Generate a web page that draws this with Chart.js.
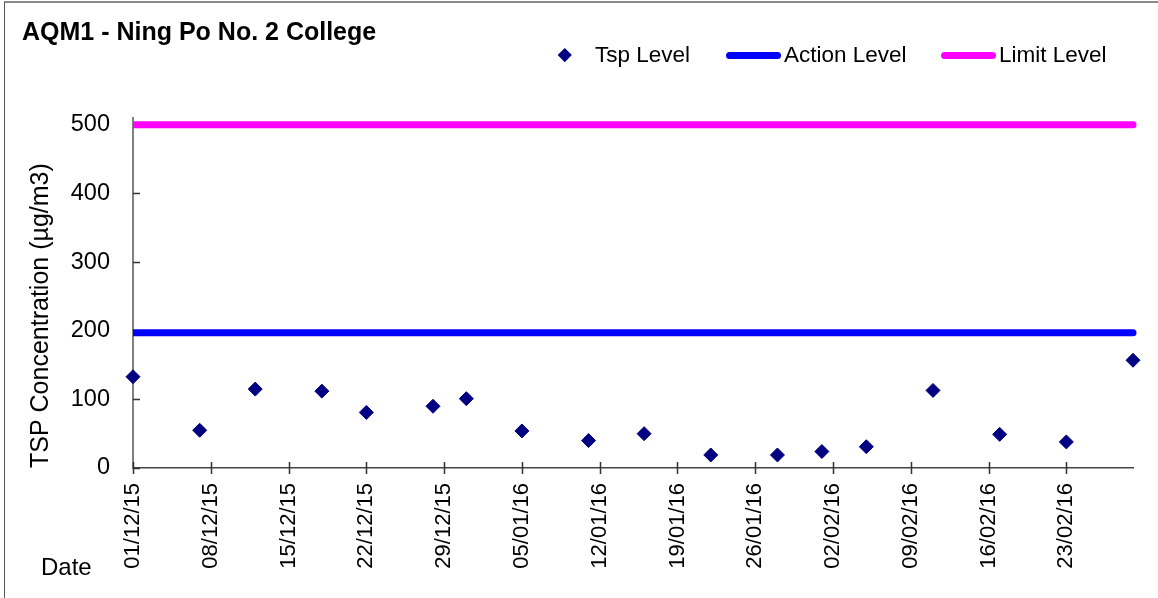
<!DOCTYPE html>
<html>
<head>
<meta charset="utf-8">
<title>AQM1 - Ning Po No. 2 College</title>
<script src="https://cdn.jsdelivr.net/npm/chart.js@4.4.1/dist/chart.umd.min.js"></script>
<style>
  html, body { margin: 0; padding: 0; background: #fff; }
  body { font-family: 'Liberation Sans', Arial, sans-serif; color: #000; }
  .frame { position: relative; width: 1158px; height: 598px; overflow: hidden; }
  .frame::before {
    content: ''; position: absolute; left: 4px; top: 1px; right: -10px; bottom: -10px;
    border-top: 2px solid #8a8a8a; border-left: 1px solid #555; pointer-events: none;
  }
  #chart-wrap { position: absolute; left: 0; top: 0; width: 1158px; height: 598px; }
  .chart-title { position: absolute; left: 22px; top: 16px; font-weight: bold; font-size: 25px; line-height: 30px; white-space: nowrap; }
  .legend-item { position: absolute; top: 41px; height: 28px; display: flex; align-items: center; font-size: 22.5px; white-space: nowrap; }
  .legend-item .sym { width: 55px; height: 28px; display: flex; align-items: center; justify-content: center; margin-right: 3px; }
  .legend-item .diamond { width: 9.5px; height: 9.5px; background: #000080; transform: rotate(45deg); }
  .legend-item .line { width: 55px; height: 7px; border-radius: 4px; }
  .x-title { position: absolute; left: 41px; top: 553px; font-size: 24px; line-height: 28px; }
</style>
</head>
<body>
<div class="frame">
  <div id="chart-wrap"><canvas id="tsp-chart"></canvas></div>
  <div class="chart-title">AQM1 - Ning Po No. 2 College</div>
  <div class="legend-item" style="left:537px"><span class="sym"><span class="diamond"></span></span>Tsp Level</div>
  <div class="legend-item" style="left:726px"><span class="sym"><span class="line" style="background:#0000ff"></span></span>Action Level</div>
  <div class="legend-item" style="left:941px"><span class="sym"><span class="line" style="background:#ff00ff"></span></span>Limit Level</div>
  <div class="x-title">Date</div>
</div>
<script>
// sampling dates (dd/mm/yy) and 24-hr TSP results
const sampleDates = ['01/12/15', '07/12/15', '12/12/15', '18/12/15', '22/12/15', '28/12/15', '31/12/15',
  '05/01/16', '11/01/16', '16/01/16', '22/01/16', '28/01/16', '01/02/16', '05/02/16',
  '11/02/16', '17/02/16', '23/02/16', '29/02/16'];
const tspLevels = [133, 55, 115, 112, 81, 90, 101, 54, 40, 50, 19, 19, 24, 31, 113, 49, 38, 157];

// action / limit levels drawn across the whole period
const levelDates = ['01/12/15', '29/02/16'];
const actionLevels = [197, 197];
const limitLevels = [500, 500];

const yTicks = [0, 100, 200, 300, 400, 500];

const START = Date.UTC(2015, 11, 1);
const DAY = 86400000;
const FONT = "'Liberation Sans', Arial, sans-serif";

function dayOf(str) {
  const [d, m, y] = str.split('/').map(Number);
  return (Date.UTC(2000 + y, m - 1, d) - START) / DAY;
}

function fmtDay(n) {
  const dt = new Date(START + n * DAY);
  const pad = v => String(v).padStart(2, '0');
  return `${pad(dt.getUTCDate())}/${pad(dt.getUTCMonth() + 1)}/${String(dt.getUTCFullYear()).slice(2)}`;
}

const toPoints = (dates, values) => dates.map((d, i) => ({ x: dayOf(d), y: values[i] }));

// small tick marks: crossing on the date axis, inside on the value axis
const tickMarks = {
  id: 'tickMarks',
  beforeDatasetsDraw(chart) {
    const { ctx, chartArea, scales: { x, y } } = chart;
    ctx.save();
    ctx.strokeStyle = '#333';
    ctx.lineWidth = 1.5;
    ctx.beginPath();
    x.ticks.forEach(t => {
      const px = Math.round(x.getPixelForValue(t.value)) + 0.5;
      ctx.moveTo(px, chartArea.bottom - 6);
      ctx.lineTo(px, chartArea.bottom + 6);
    });
    y.ticks.forEach(t => {
      const py = Math.round(y.getPixelForValue(t.value)) + 0.5;
      ctx.moveTo(chartArea.left, py);
      ctx.lineTo(chartArea.left + 7, py);
    });
    ctx.stroke();
    ctx.restore();
  },
};

new Chart(document.getElementById('tsp-chart'), {
  type: 'scatter',
  data: {
    datasets: [
      {
        label: 'Limit Level',
        data: toPoints(levelDates, limitLevels),
        showLine: true,
        borderColor: '#ff00ff',
        borderWidth: 7,
        borderCapStyle: 'round',
        pointRadius: 0,
        clip: { left: 0, right: 5, top: 5, bottom: 5 },
      },
      {
        label: 'Action Level',
        data: toPoints(levelDates, actionLevels),
        showLine: true,
        borderColor: '#0000ff',
        borderWidth: 7,
        borderCapStyle: 'round',
        pointRadius: 0,
        clip: { left: 0, right: 5, top: 5, bottom: 5 },
      },
      {
        label: 'Tsp Level',
        data: toPoints(sampleDates, tspLevels),
        pointStyle: 'rectRot',
        pointRadius: 7,
        backgroundColor: '#000080',
        borderColor: '#000080',
        borderWidth: 1,
        clip: false,
      },
    ],
  },
  options: {
    responsive: true,
    maintainAspectRatio: false,
    animation: false,
    layout: { padding: { left: 0, right: 25, top: 118, bottom: 0 } },
    plugins: {
      legend: { display: false },
      tooltip: { enabled: false },
    },
    scales: {
      x: {
        type: 'linear',
        min: dayOf(levelDates[0]),
        max: dayOf(levelDates[1]),
        afterBuildTicks: scale => {
          scale.ticks = scale.ticks.filter(t => t.value % 7 === 0);
        },
        afterFit: scale => { scale.height = 130; },
        grid: { display: false, drawTicks: false },
        border: { color: '#444', width: 1.5 },
        ticks: {
          stepSize: 7,
          autoSkip: false,
          minRotation: 90,
          maxRotation: 90,
          padding: 15,
          color: '#000',
          font: { family: FONT, size: 22 },
          callback: value => fmtDay(value),
        },
      },
      y: {
        min: 0,
        max: 510,
        afterBuildTicks: scale => {
          scale.ticks = yTicks.map(value => ({ value }));
        },
        afterFit: scale => { scale.width = 133; },
        grid: { display: false, drawTicks: false },
        border: { color: '#808080', width: 2 },
        ticks: {
          padding: 23,
          color: '#000',
          font: { family: FONT, size: 23.5 },
        },
        title: {
          display: true,
          text: 'TSP Concentration (µg/m3)',
          align: 'start',
          color: '#000',
          font: { family: FONT, size: 25 },
          padding: { top: 26, bottom: 0 },
        },
      },
    },
  },
  plugins: [tickMarks],
});
</script>
</body>
</html>
